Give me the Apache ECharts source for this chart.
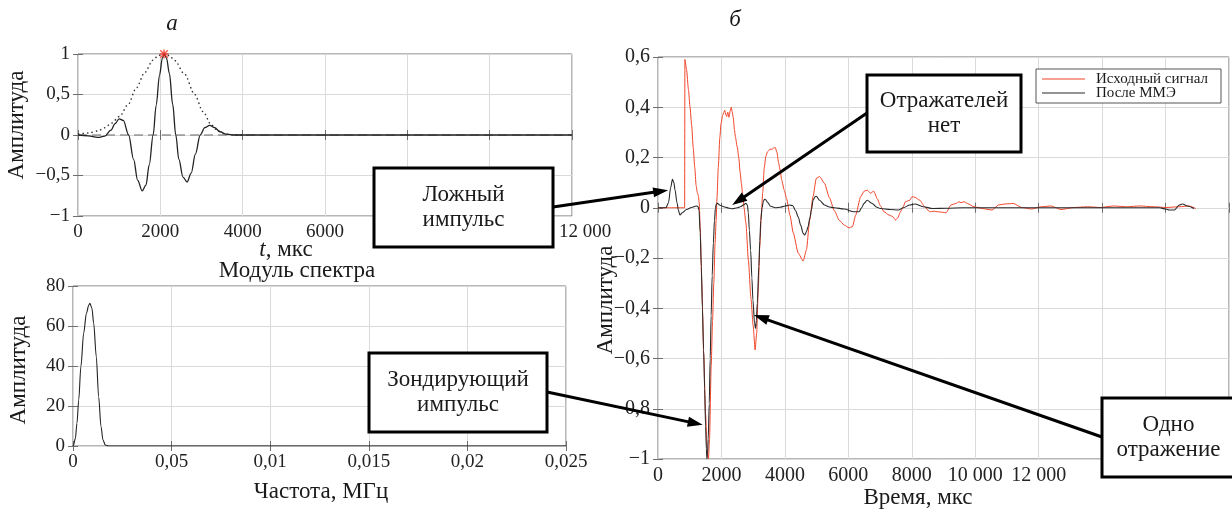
<!DOCTYPE html>
<html><head><meta charset="utf-8">
<script src="https://cdn.jsdelivr.net/npm/echarts@6/dist/echarts.min.js"></script>
<style>html,body{margin:0;padding:0;background:#fff}#c{width:1232px;height:509px}</style>
</head><body><div id="c"></div>
<script>
// ---------- data ----------
// panel а : probing pulse
const pulseT = [0,250,480,650,800,900,1000,1100,1230,1350,1450,1560,1650,1730,1825,1900,1980,2050,2100,2150,2220,2300,2375,2450,2550,2650,2750,2850,2970,3080,3200,3320,3450,3600,3800,4500,12000];
const pulseA = [0,-0.01,-0.03,-0.015,0.06,0.14,0.2,0.18,0.0,-0.3,-0.56,-0.69,-0.62,-0.37,0.0,0.37,0.74,0.95,1.0,0.95,0.76,0.38,0.0,-0.3,-0.52,-0.58,-0.47,-0.24,0.0,0.09,0.12,0.09,0.04,0.01,0,0,0];
const envT = [0,250,486,650,810,1012,1215,1417,1619,1822,1950,2090,2220,2348,2591,2834,3036,3239,3400,3550,3750,4000];
const envA = [0.01,0.025,0.05,0.09,0.146,0.23,0.375,0.58,0.77,0.925,0.98,1.0,0.98,0.92,0.75,0.5,0.29,0.125,0.05,0.015,0.0,0];
const baseT = [0,12000];
const baseA = [0,0];
const peakT = [2090];
const peakA = [1];
// spectrum
const specF = [0,0.00003,0.00012,0.0002,0.00029,0.0004,0.00054,0.00068,0.0008,0.00086,0.00096,0.00105,0.00118,0.0013,0.00142,0.00152,0.00164,0.0018,0.0025,0.025];
const specA = [0,0.5,3.8,11.3,23,39.7,56.3,66.3,70.5,71.3,68.8,61.3,44.7,24.7,9.7,3,0.5,0,0,0];
// panel б
const redT = [0,840,848,900,960,1010,1060,1110,1160,1200,1240,1270,1300,1330,1380,1440,1500,1550,1590,1625,1676,1720,1759,1800,1832,1860,1900,1950,1987,2039,2075,2103,2140,2165,2200,2237,2275,2309,2340,2371,2410,2443,2500,2546,2590,2629,2670,2712,2770,2850,2930,3000,3061,3110,3160,3210,3260,3300,3350,3400,3450,3530,3600,3650,3696,3750,3800,3850,3900,3980,4056,4160,4264,4419,4575,4679,4782,4886,4990,5093,5249,5404,5560,5715,5870,6026,6129,6233,6388,6500,6594,6700,6800,6917,7010,7124,7280,7400,7487,7560,7642,7733,7798,7940,8005,8096,8251,8407,8562,8700,8821,8975,9080,9235,9391,9493,9546,9650,9753,9960,10219,10530,10737,10944,11203,11462,11773,12083,12394,12705,13119,13533,13948,14362,14776,15190,15604,16018,16433,16743,16950];
const redA = [0,0,0.59,0.55,0.47,0.40,0.33,0.24,0.16,0.09,0.06,0.05,0.02,-0.08,-0.3,-0.58,-0.82,-0.96,-1.0,-0.92,-0.63,-0.45,-0.30,-0.14,-0.05,0.04,0.16,0.28,0.335,0.368,0.38,0.388,0.37,0.363,0.38,0.36,0.385,0.40,0.38,0.36,0.31,0.28,0.24,0.20,0.14,0.097,0.05,0.0,-0.06,-0.21,-0.36,-0.47,-0.566,-0.5,-0.33,-0.15,-0.02,0.06,0.16,0.205,0.222,0.233,0.233,0.238,0.24,0.22,0.18,0.15,0.11,0.07,0.035,-0.03,-0.10,-0.18,-0.212,-0.168,-0.049,0.044,0.117,0.124,0.097,0.04,-0.012,-0.05,-0.069,-0.08,-0.075,-0.029,0.044,0.066,0.07,0.058,0.066,0.035,0.008,-0.016,-0.029,-0.035,-0.049,-0.04,-0.016,0.004,0.024,0.03,0.044,0.042,0.03,0.004,-0.016,-0.014,-0.016,-0.018,-0.02,0.011,0.017,0.024,0.02,0.024,0.017,0.004,-0.003,-0.009,0.011,0.015,0.017,0.001,-0.005,0.004,0.007,-0.007,0.001,0.004,0.001,0.007,0.004,0.007,0.004,0.001,0.004,0.007,-0.003];
const blackT = [0,250,330,400,455,500,538,600,641,693,766,900,1055,1210,1260,1293,1330,1366,1400,1438,1470,1500,1525,1542,1562,1583,1615,1645,1675,1708,1745,1780,1810,1840,1870,1950,2100,2250,2350,2500,2600,2700,2770,2820,2846,2880,2920,2960,2992,3044,3075,3100,3130,3179,3210,3241,3282,3320,3354,3400,3450,3550,3700,3850,4005,4150,4250,4330,4419,4500,4575,4627,4680,4731,4790,4834,4890,4950,4990,5093,5249,5400,5560,5870,6181,6336,6420,6492,6595,6751,6900,7010,7321,7580,7733,7940,8096,8355,8666,9080,9597,10500,12000,13500,15000,15811,16000,16122,16277,16433,16536,16691,16898];
const blackA = [0,0,0.02,0.08,0.113,0.1,0.07,0.02,-0.009,-0.029,-0.02,-0.007,0.001,0.007,0.005,-0.01,-0.1,-0.234,-0.4,-0.566,-0.72,-0.87,-0.96,-1.0,-0.98,-0.92,-0.78,-0.60,-0.43,-0.27,-0.14,-0.05,0.0,0.015,0.018,0.01,0.003,-0.002,-0.004,0.0,0.004,0.012,0.018,0.01,-0.02,-0.09,-0.168,-0.28,-0.367,-0.46,-0.48,-0.45,-0.38,-0.234,-0.13,-0.05,0.0,0.025,0.034,0.032,0.022,0.006,0.0,0.002,0.007,0.011,0.008,-0.01,-0.036,-0.07,-0.102,-0.109,-0.095,-0.075,-0.04,-0.009,0.03,0.044,0.046,0.03,0.011,0.003,0.0,-0.005,-0.016,-0.016,0.0,0.017,0.03,0.017,0.002,-0.003,-0.007,-0.009,0.0,0.011,0.015,0.004,-0.003,-0.002,0.0,0.0,0.0,0.0,0.0,0.0,-0.005,-0.009,-0.009,0.011,0.015,0.007,-0.003];
// tick labels
const topXLabels = ['0','2000','4000','6000','8000','10 000','{last|12 000}'];
const topYLabels = ['\u22121','\u22120,5','0','0,5','1'];
const specXLabels = ['0','0,05','0,01','0,015','0,02','0,025'];
const specYLabels = ['0','20','40','60','80'];
const rightXLabels = ['0','2000','4000','6000','8000','10 000','12 000','',''];
const rightYLabels = ['\u22121','\u22120,8','\u22120,6','\u22120,4','\u22120,2','0','0,2','0,4','0,6'];
const seriesNames = ['Исходный сигнал','После ММЭ'];
const seriesColors = ['#f04429','#2a2a2a'];
// annotation targets (data points the arrows point to, panel б)
const annotTargets = [[320,0.07],[2339,0.011],[1407,-0.864],[3022,-0.427]];

// ---------- chart ----------
const FONT = 'Liberation Serif';
const zip = (a,b) => a.map((v,i)=>[v,b[i]]);
const GRIDC = '#dadada', BORDER = '#6e6e6e';

function xAx(grid, min, max, interval, labels, step, fs, pos) {
  const top = pos === 'top';
  return {
    type:'value', gridIndex:grid, min, max, interval, position: pos || 'bottom',
    axisLine:{show:false},
    axisTick:{show:true, inside:true, length:5, lineStyle:{color:BORDER}},
    splitLine:{show:!top, lineStyle:{color:GRIDC, width:1}},
    axisLabel:{show:!top, margin:7, fontFamily:FONT, fontSize:fs, color:'#222',
      rich:{last:{fontFamily:FONT, fontSize:fs, color:'#222', padding:[0,0,0,26]}},
      formatter: v => labels[Math.round((v-min)/step)] }
  };
}
function yAx(grid, min, max, interval, labels, fs, pos) {
  const right = pos === 'right';
  return {
    type:'value', gridIndex:grid, min, max, interval, position: pos || 'left',
    axisLine:{show:false},
    axisTick:{show:true, inside:true, length:5, lineStyle:{color:BORDER}},
    splitLine:{show:!right, lineStyle:{color:GRIDC, width:1}},
    axisLabel:{show:!right, margin:8, fontFamily:FONT, fontSize:fs, color:'#222',
      formatter: v => labels[Math.round((v-min)/interval)] }
  };
}

const chart = echarts.init(document.getElementById('c'));
const option = {
  animation:false,
  backgroundColor:'#fff',
  grid:[
    {left:78, top:54, width:494, height:162, show:true, borderColor:BORDER, borderWidth:1},
    {left:73, top:286, width:493, height:160, show:true, borderColor:BORDER, borderWidth:1},
    {left:658, top:57, width:578, height:402, show:true, borderColor:BORDER, borderWidth:1}
  ],
  xAxis:[
    xAx(0,0,12000,2000,topXLabels,2000,19),
    xAx(0,0,12000,2000,topXLabels,2000,19,'top'),
    xAx(1,0,0.025,0.005,specXLabels,0.005,19),
    xAx(1,0,0.025,0.005,specXLabels,0.005,19,'top'),
    xAx(2,0,18000,2000,rightXLabels,2000,20),
    xAx(2,0,18000,2000,rightXLabels,2000,20,'top')
  ],
  yAxis:[
    yAx(0,-1,1,0.5,topYLabels,19),
    yAx(0,-1,1,0.5,topYLabels,19,'right'),
    yAx(1,0,80,20,specYLabels,19),
    yAx(1,0,80,20,specYLabels,19,'right'),
    yAx(2,-1,0.6,0.2,rightYLabels,20),
    yAx(2,-1,0.6,0.2,rightYLabels,20,'right')
  ],
  series:[
    {type:'line', xAxisIndex:0, yAxisIndex:0, data:zip(envT,envA), symbol:'none', smooth:0.3, smoothMonotone:'x',
      lineStyle:{type:[1.5,3], width:1.4, color:'#333'}, silent:true},
    {type:'line', xAxisIndex:0, yAxisIndex:0, data:zip(baseT,baseA), symbol:'none',
      lineStyle:{type:[9,5], width:1.2, color:'#666'}, silent:true},
    {type:'line', xAxisIndex:0, yAxisIndex:0, data:zip(pulseT,pulseA), symbol:'none', smooth:0.35, smoothMonotone:'x',
      lineStyle:{width:1.3, color:'#222'}, silent:true},
    {type:'scatter', xAxisIndex:0, yAxisIndex:0, data:zip(peakT,peakA),
      symbol:'path://M0,0L10,10M10,0L0,10M5,-1L5,11M-1,5L11,5', symbolSize:9,
      itemStyle:{color:'rgba(0,0,0,0)', borderColor:'#f03020', borderWidth:1.4}, silent:true, z:5},
    {type:'line', xAxisIndex:2, yAxisIndex:2, data:zip(specF,specA), symbol:'none', smooth:0.3, smoothMonotone:'x',
      lineStyle:{width:1.1, color:'#222'}, silent:true},
    {name:seriesNames[0], type:'line', xAxisIndex:4, yAxisIndex:4, data:zip(redT,redA), symbol:'none', smooth:0.2, smoothMonotone:'x',
      lineStyle:{width:1, color:seriesColors[0]}, silent:true},
    {name:seriesNames[1], type:'line', xAxisIndex:4, yAxisIndex:4, data:zip(blackT,blackA), symbol:'none', smooth:0.3, smoothMonotone:'x',
      lineStyle:{width:1.1, color:seriesColors[1]}, silent:true}
  ]
};
chart.setOption(option);

// ---------- texts, boxes, legend and arrows ----------
function txt(x, y, text, opts) {
  opts = opts || {};
  return {type:'text', x, y, rotation:opts.rot || 0, z:50, silent:true,
    style:{text, fill:'#1a1a1a', fontFamily:FONT, fontSize:opts.size || 23,
      fontStyle:opts.italic ? 'italic' : 'normal',
      align:opts.align || 'center', verticalAlign:'middle', rich:opts.rich}};
}
function box(x, y, w, h, text) {
  return [
    {type:'rect', shape:{x, y, width:w, height:h}, z:100, silent:true,
      style:{fill:'#fff', stroke:'#000', lineWidth:3}},
    {type:'text', x:x+w/2, y:y+h/2, z:101, silent:true,
      style:{text, fill:'#1a1a1a', fontFamily:FONT, fontSize:23, align:'center', verticalAlign:'middle', lineHeight:25}}
  ];
}
function arrow(sx, sy, target) {
  const p = chart.convertToPixel({xAxisIndex:4, yAxisIndex:4}, target);
  const tx = p[0], ty = p[1];
  const dx = tx - sx, dy = ty - sy, len = Math.hypot(dx, dy);
  const ux = dx/len, uy = dy/len, L = 15, W = 5;
  const bx = tx - ux*L, by = ty - uy*L;
  return [
    {type:'line', shape:{x1:sx, y1:sy, x2:bx+ux*2, y2:by+uy*2}, z:99, silent:true,
      style:{stroke:'#000', lineWidth:3}},
    {type:'polygon', shape:{points:[[tx,ty],[bx-uy*W,by+ux*W],[bx+uy*W,by-ux*W]]}, z:99, silent:true,
      style:{fill:'#000'}}
  ];
}

const g = [];
g.push(txt(172, 24, 'а', {italic:true}));
g.push(txt(735, 20, 'б', {italic:true}));
g.push(txt(17, 125, 'Амплитуда', {rot:Math.PI/2}));
g.push(txt(19, 370, 'Амплитуда', {rot:Math.PI/2}));
g.push(txt(606, 300, 'Амплитуда', {rot:Math.PI/2}));
g.push({type:'text', x:286, y:250, z:50, silent:true,
  style:{text:'{i|t}{n|, мкс}', align:'center', verticalAlign:'middle',
    rich:{i:{fontStyle:'italic', fontFamily:FONT, fontSize:23, fill:'#1a1a1a'},
          n:{fontFamily:FONT, fontSize:23, fill:'#1a1a1a'}}}});
g.push(txt(297, 271, 'Модуль спектра'));
g.push(txt(321, 492, 'Частота, МГц'));
g.push(txt(918, 498, 'Время, мкс'));

// legend (panel б)
g.push({type:'rect', shape:{x:1036, y:69, width:185, height:34}, z:60, silent:true,
  style:{fill:'#fff', stroke:'#555', lineWidth:1}});
[79, 93].forEach((yy, i) => {
  g.push({type:'line', shape:{x1:1042, y1:yy, x2:1085, y2:yy}, z:61, silent:true,
    style:{stroke:seriesColors[i], lineWidth:1.2}});
  g.push(txt(1096, yy, seriesNames[i], {size:15, align:'left'}));
  g[g.length-1].z = 61;
});

g.push(...arrow(553, 207, annotTargets[0]));
g.push(...arrow(867, 113, annotTargets[1]));
g.push(...arrow(547, 392, annotTargets[2]));
g.push(...arrow(1102, 437, annotTargets[3]));
g.push(...box(374, 168, 179, 79, 'Ложный\nимпульс'));
g.push(...box(867, 75, 154, 77, 'Отражателей\nнет'));
g.push(...box(369, 353, 178, 79, 'Зондирующий\nимпульс'));
g.push(...box(1102, 398, 133, 79, 'Одно\nотражение'));

chart.setOption({graphic:{elements:g}});
</script>
</body></html>
